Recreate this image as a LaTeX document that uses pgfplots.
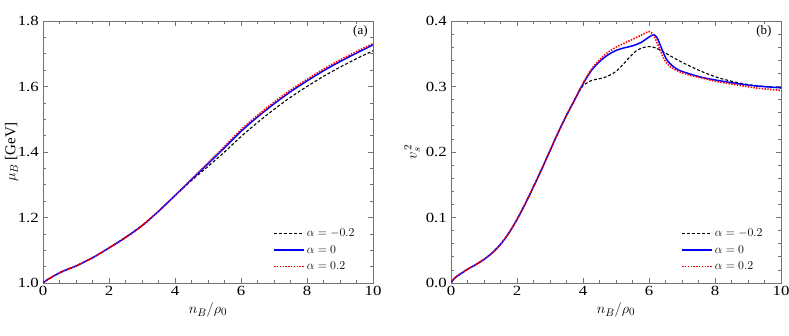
\documentclass[border=0pt]{standalone}
\usepackage{fontspec}
\setmainfont{Liberation Serif}
\usepackage{pgfplots}
\pgfplotsset{compat=1.18}
\definecolor{framegray}{gray}{0.45}
\pgfplotsset{
 mystyle/.style={
  scale only axis, width=330pt, height=262pt,
  xmin=0, xmax=10,
  xtick={0,2,4,6,8,10},
  minor x tick num=3,
  tick align=inside,
  axis line style={framegray, line width=0.7pt},
  every tick/.style={framegray, line width=0.6pt},
  major tick length=5pt, minor tick length=3pt,
  tick label style={font=\fontsize{14}{16}\selectfont, xscale=1.2},
  /pgf/number format/assume math mode=true,
  label style={font=\fontsize{15}{17}\selectfont},
  xlabel={$n_B/\rho_0$},
  xlabel style={yshift=0pt},
  legend style={draw=none, fill=none, font=\fontsize{12}{14}\selectfont,
     at={(rel axis cs:0.96,0.03)}, anchor=south east, row sep=3pt,
     cells={anchor=west}},
  legend image code/.code={\draw[##1] (0pt,0pt) -- (30pt,0pt);},
 },
}
\begin{document}
\begin{tikzpicture}
\begin{axis}[mystyle, at={(0pt,0pt)}, anchor=south west,
  ymin=1.0, ymax=1.8, ytick={1.0,1.2,1.4,1.6,1.8}, minor y tick num=3,
  yticklabel style={/pgf/number format/.cd, fixed, fixed zerofill, precision=1},
  ylabel={$\mu_B$ [GeV]}, ylabel style={yshift=-8pt}]
\addplot[draw=black, color=black, dash pattern=on 3pt off 2pt, line width=1.1pt, smooth] coordinates {(0,1.000)(0.1,1.008)(0.25,1.017)(0.5,1.031)(0.75,1.042)(1,1.052)(1.5,1.077)(2,1.107)(2.5,1.139)(3,1.175)(3.5,1.219)(4,1.267)(4.5,1.313)(5,1.356)(5.5,1.400)(6,1.447)(6.5,1.490)(7,1.530)(7.5,1.567)(8,1.600)(8.5,1.631)(9,1.659)(9.5,1.685)(10,1.709)};
\addlegendentry{$\alpha=-0.2$}
\addplot[draw=blue, color=blue, line width=1.5pt, smooth] coordinates {(0,1.000)(0.1,1.008)(0.25,1.017)(0.5,1.031)(0.75,1.042)(1,1.052)(1.5,1.077)(2,1.107)(2.5,1.139)(3,1.175)(3.5,1.219)(4,1.267)(4.5,1.316)(5,1.364)(5.5,1.413)(6,1.463)(6.5,1.507)(7,1.547)(7.5,1.584)(8,1.617)(8.5,1.648)(9,1.676)(9.5,1.702)(10,1.727)};
\addlegendentry{$\alpha=0$}
\addplot[draw=red, color=red, dash pattern=on 1.4pt off 1.4pt, line width=1.6pt, smooth] coordinates {(0,1.000)(0.1,1.008)(0.25,1.017)(0.5,1.031)(0.75,1.042)(1,1.052)(1.5,1.077)(2,1.107)(2.5,1.139)(3,1.175)(3.5,1.219)(4,1.267)(4.5,1.317)(5,1.367)(5.5,1.417)(6,1.468)(6.5,1.512)(7,1.552)(7.5,1.589)(8,1.622)(8.5,1.653)(9,1.681)(9.5,1.707)(10,1.731)};
\addlegendentry{$\alpha=0.2$}
\node[font=\fontsize{13}{15}\selectfont] at (rel axis cs:0.962,0.962) {(a)};
\end{axis}
\begin{axis}[mystyle, at={(408pt,0pt)}, anchor=south west,
  ymin=0, ymax=0.4, ytick={0,0.1,0.2,0.3,0.4}, minor y tick num=4,
  yticklabel style={/pgf/number format/.cd, fixed, fixed zerofill, precision=1},
  ylabel={$v_s^{\,2}$}, ylabel style={yshift=-2pt}]
\addplot[draw=black, color=black, dash pattern=on 3pt off 2pt, line width=1.1pt, smooth] coordinates {(0,0)(0.05,0.004)(0.1,0.007)(0.2,0.011)(0.35,0.016)(0.5,0.021)(0.75,0.028)(1.0,0.036)(1.25,0.046)(1.5,0.059)(1.75,0.076)(2.0,0.097)(2.25,0.121)(2.5,0.147)(2.75,0.174)(3.0,0.202)(3.25,0.230)(3.5,0.256)(3.75,0.280)(3.9,0.294)(4.0,0.301)(4.2,0.308)(4.4,0.311)(4.6,0.313)(4.8,0.317)(5.0,0.323)(5.2,0.333)(5.4,0.344)(5.6,0.354)(5.8,0.359)(6.0,0.361)(6.2,0.359)(6.4,0.354)(6.6,0.348)(7.0,0.337)(7.5,0.325)(8.0,0.315)(8.5,0.308)(9.0,0.303)(9.5,0.300)(10,0.298)};
\addlegendentry{$\alpha=-0.2$}
\addplot[draw=blue, color=blue, line width=1.5pt, smooth] coordinates {(0,0)(0.05,0.004)(0.1,0.007)(0.2,0.011)(0.35,0.016)(0.5,0.021)(0.75,0.028)(1.0,0.036)(1.25,0.046)(1.5,0.059)(1.75,0.076)(2.0,0.097)(2.25,0.121)(2.5,0.147)(2.75,0.174)(3.0,0.202)(3.25,0.230)(3.5,0.256)(3.75,0.280)(4.0,0.304)(4.25,0.324)(4.5,0.338)(4.75,0.348)(5.0,0.355)(5.25,0.359)(5.5,0.362)(5.75,0.367)(5.9,0.372)(6.05,0.377)(6.15,0.379)(6.25,0.374)(6.35,0.362)(6.45,0.350)(6.55,0.340)(6.7,0.332)(6.9,0.325)(7.25,0.319)(7.6,0.314)(8.0,0.310)(8.6,0.305)(9.2,0.301)(10,0.298)};
\addlegendentry{$\alpha=0$}
\addplot[draw=red, color=red, dash pattern=on 1.4pt off 1.4pt, line width=1.6pt, smooth] coordinates {(0,0)(0.05,0.004)(0.1,0.007)(0.2,0.011)(0.35,0.016)(0.5,0.021)(0.75,0.028)(1.0,0.036)(1.25,0.046)(1.5,0.059)(1.75,0.076)(2.0,0.097)(2.25,0.121)(2.5,0.147)(2.75,0.174)(3.0,0.202)(3.25,0.230)(3.5,0.256)(3.75,0.280)(4.0,0.305)(4.25,0.326)(4.5,0.341)(4.75,0.352)(5.0,0.360)(5.25,0.366)(5.5,0.372)(5.75,0.378)(5.9,0.382)(6.0,0.384)(6.1,0.381)(6.2,0.372)(6.3,0.360)(6.4,0.348)(6.5,0.338)(6.65,0.330)(6.9,0.323)(7.25,0.317)(7.6,0.313)(8.0,0.308)(8.6,0.303)(9.2,0.298)(10,0.294)};
\addlegendentry{$\alpha=0.2$}
\node[font=\fontsize{13}{15}\selectfont] at (rel axis cs:0.948,0.962) {(b)};
\end{axis}
\pgfresetboundingbox
\path[use as bounding box] (-43pt,-53pt) rectangle (746pt,283pt);
\end{tikzpicture}
\end{document}
